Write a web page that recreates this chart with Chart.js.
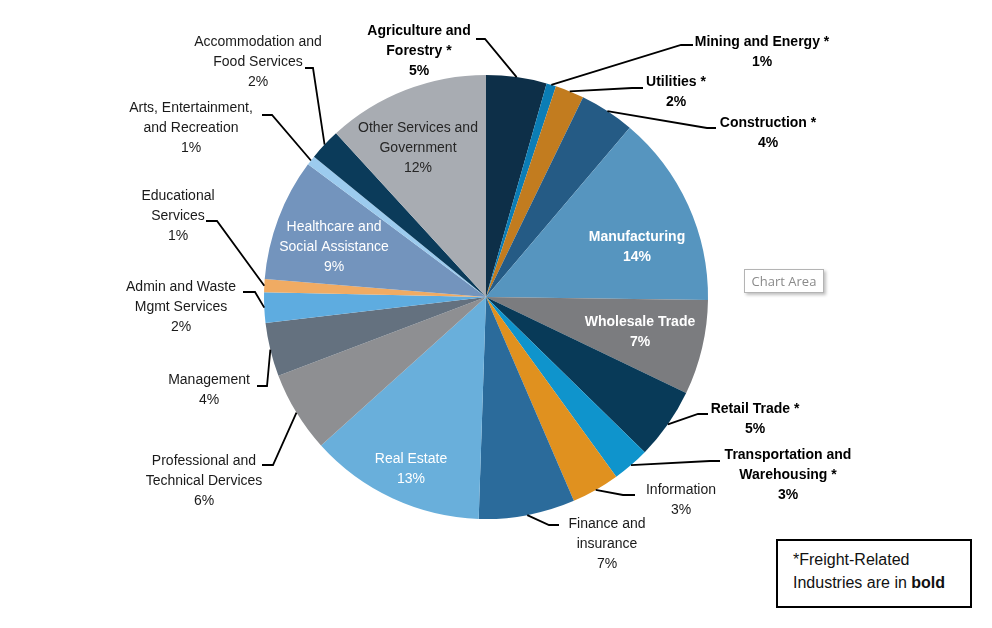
<!DOCTYPE html>
<html>
<head>
<meta charset="utf-8">
<script src="https://cdn.jsdelivr.net/npm/chart.js@4.4.1/dist/chart.umd.min.js"></script>
<style>
    html, body { margin: 0; padding: 0; background: #fff; }
    #wrap { position: relative; width: 992px; height: 628px; }
    #chart-share { position: absolute; left: 0; top: 0; }
    .tip {
        position: absolute; left: 744px; top: 269px; width: 78px; height: 22px;
        border: 1px solid #b4b4b4; background: #fff; box-shadow: 2px 2px 3px rgba(0,0,0,0.25);
        font-family: "Open Sans", "Liberation Sans", sans-serif; font-size: 13px; color: #8a8a8a;
        line-height: 22px; text-align: center;
    }
    .note {
        position: absolute; left: 776px; top: 539px; width: 192px; height: 65px;
        border: 2px solid #000; background: #fff;
        font-family: "Liberation Sans", Arial, sans-serif; font-size: 16px; color: #111;
        line-height: 23px; padding: 7px 0 0 15px; box-sizing: border-box; width: 196px; height: 69px;
    }
</style>
</head>
<body>
<div id="wrap">
    <canvas id="chart-share" width="992" height="628"></canvas>
    <div class="tip">Chart Area</div>
    <div class="note">*Freight-Related<br>Industries are in <b>bold</b></div>
</div>
<script>
// Share of industries (clockwise from 12 o'clock)
const categories = [
    'Agriculture and\nForestry *', 'Mining and Energy *', 'Utilities *', 'Construction *',
    'Manufacturing', 'Wholesale Trade', 'Retail Trade *', 'Transportation and\nWarehousing *',
    'Information', 'Finance and\ninsurance', 'Real Estate', 'Professional and\nTechnical Dervices',
    'Management', 'Admin and Waste\nMgmt Services', 'Educational\nServices',
    'Healthcare and\nSocial Assistance', 'Arts, Entertainment,\nand Recreation',
    'Accommodation and\nFood Services', 'Other Services and\nGovernment'
];
const shares = [4.4, 0.7, 2.1, 4.0, 14.0, 6.9, 5.2, 2.7, 3.5, 7.0, 12.8, 5.9, 3.9, 2.2, 0.95, 8.9, 0.7, 2.3, 11.8];
const pctLabels = ['5%', '1%', '2%', '4%', '14%', '7%', '5%', '3%', '3%', '7%', '13%', '6%', '4%', '2%', '1%', '9%', '1%', '2%', '12%'];
const freight = [true, true, true, true, true, true, true, true, false, false, false, false, false, false, false, false, false, false, false];

const colors = [
    '#0d2f48', '#0b7db5', '#c27c1f', '#255b85', '#5695bf', '#7b7c7f', '#083a58', '#0f94cc',
    '#e0911f', '#2b6b9b', '#69afdb', '#8e8f92', '#64717f', '#5eace0', '#f0ab63', '#7394bd',
    '#9ccbee', '#0b3b5a', '#a8acb2'
];

// label layout: text centre / first line y, colour, and leader elbow points (null = inside label)
const labelLayout = [
    { x: 419, y: 31, path: [[485, 39], [476, 39]] },
    { x: 762, y: 42, path: [[681, 45], [693, 45]] },
    { x: 676, y: 82, path: [[632, 88], [643, 88]] },
    { x: 768, y: 123, path: [[707, 128], [716, 128]] },
    { x: 637, y: 237, color: '#fff' },
    { x: 640, y: 322, color: '#fff' },
    { x: 755, y: 409, path: [[698, 414], [708, 414]] },
    { x: 788, y: 455, path: [[710, 461], [720, 461]] },
    { x: 681, y: 490, path: [[623, 495], [635, 495]] },
    { x: 607, y: 524, path: [[549, 525], [559, 525]] },
    { x: 411, y: 459, color: '#fff' },
    { x: 204, y: 461, path: [[273, 465], [262, 465]] },
    { x: 209, y: 380, path: [[267, 386], [257, 386]] },
    { x: 181, y: 287, path: [[255, 292], [243, 292]] },
    { x: 178, y: 196, path: [[217, 221], [206, 221]] },
    { x: 334, y: 227, color: '#fff' },
    { x: 191, y: 108, path: [[272, 115], [262, 115]] },
    { x: 258, y: 42, path: [[313, 68], [305, 68]] },
    { x: 418, y: 128, color: '#262626' }
];

const pieLabels = {
    id: 'pieLabels',
    afterDraw(chart) {
        const ctx = chart.ctx;
        const meta = chart.getDatasetMeta(0);
        ctx.save();
        meta.data.forEach((arc, i) => {
            const p = arc.getProps(['x', 'y', 'startAngle', 'endAngle', 'outerRadius'], true);
            const lay = labelLayout[i];
            if (lay.path) {
                const mid = (p.startAngle + p.endAngle) / 2;
                ctx.beginPath();
                ctx.moveTo(p.x + Math.cos(mid) * p.outerRadius, p.y + Math.sin(mid) * p.outerRadius);
                lay.path.forEach(pt => ctx.lineTo(pt[0], pt[1]));
                ctx.strokeStyle = '#000';
                ctx.lineWidth = 1.8;
                ctx.stroke();
            }
            const lines = categories[i].split('\n').concat(pctLabels[i]);
            ctx.font = (freight[i] || i === 4 || i === 5 ? 'bold ' : '') + '14px "Liberation Sans", Arial, sans-serif';
            ctx.fillStyle = lay.color || (freight[i] ? '#000' : '#1a1a1a');
            ctx.textAlign = 'center';
            ctx.textBaseline = 'middle';
            lines.forEach((t, k) => ctx.fillText(t, lay.x, lay.y + k * 20));
        });
        ctx.restore();
    }
};

new Chart(document.getElementById('chart-share').getContext('2d'), {
    type: 'pie',
    data: {
        labels: categories,
        datasets: [{
            data: shares,
            backgroundColor: colors,
            borderWidth: 0
        }]
    },
    options: {
        responsive: false,
        animation: false,
        layout: { padding: { left: 264, right: 284, top: 75, bottom: 109 } },
        plugins: {
            legend: { display: false },
            tooltip: { enabled: false }
        }
    },
    plugins: [pieLabels]
});
</script>
</body>
</html>
